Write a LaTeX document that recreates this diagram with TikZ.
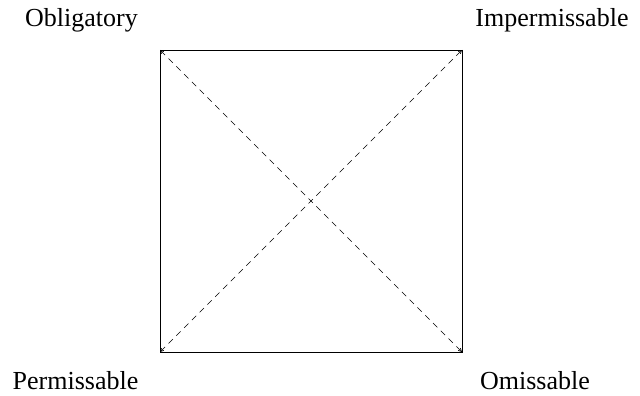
\documentclass[tikz,border=0pt]{standalone}
\usepackage{fontspec}
\setmainfont{Liberation Serif}
\usetikzlibrary{arrows.meta}
\begin{document}
\begin{tikzpicture}[x=1pt,y=-1pt,
  lbl/.style={inner sep=0pt,anchor=base,font=\fontsize{26}{30}\selectfont},
  diag/.style={dashed,dash pattern=on 6pt off 5pt,line width=0.7pt,{Straight Barb[length=3pt,width=3pt]}-{Straight Barb[length=3pt,width=3pt]}},
  side/.style={line width=0.8pt}]
\useasboundingbox (0,0) rectangle (640,396);
\coordinate (tl) at (160,50);
\coordinate (tr) at (462,50);
\coordinate (bl) at (160,352);
\coordinate (br) at (462,352);
\draw[side] (tl) -- (tr) -- (br) -- (bl) -- cycle;
\draw[diag] (tl) -- (br);
\draw[diag] (bl) -- (tr);
\node[lbl] (obl) at (81.5,27) {Obligatory};
\node[lbl] (imp) at (552,27) {Impermissable};
\node[lbl] (per) at (75.5,389) {Permissable};
\node[lbl] (omi) at (535,389) {Omissable};
\end{tikzpicture}
\end{document}
